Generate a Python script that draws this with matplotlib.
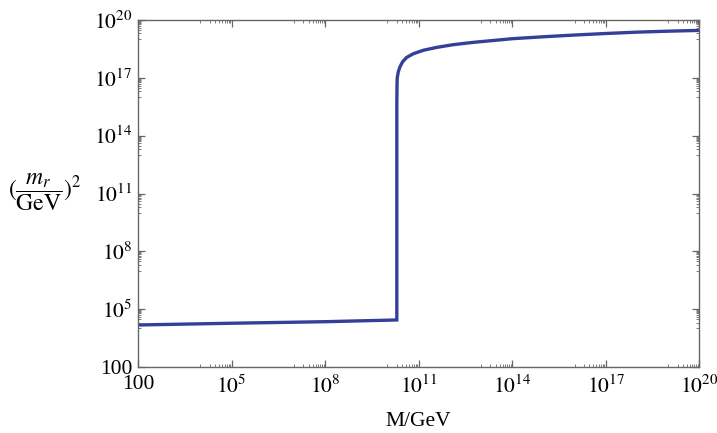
import numpy as np
import matplotlib
matplotlib.use("Agg")
import matplotlib.pyplot as plt
from matplotlib.ticker import FixedLocator, NullFormatter

plt.rcParams['font.family'] = ['Liberation Serif', 'DejaVu Serif']
plt.rcParams['mathtext.fontset'] = 'stix'

# Curve (log10 values)
log_M = [2.0, 5.0, 8.0, 10.30, 10.30, 10.305, 10.311, 10.348, 10.403, 10.489,
         10.617, 10.83, 11.15, 11.58, 12.11, 12.75, 13.61, 14.0, 15.0, 16.0,
         17.0, 18.0, 19.0, 20.0]
log_m2 = [4.18, 4.27, 4.35, 4.44, 15.5, 16.5, 16.97, 17.32, 17.58, 17.84,
          18.06, 18.25, 18.43, 18.58, 18.72, 18.84, 18.97, 19.03, 19.13, 19.22,
          19.30, 19.37, 19.42, 19.46]

major_exps = [2, 5, 8, 11, 14, 17, 20]
tick_labels = ['100', r'$10^{5}$', r'$10^{8}$', r'$10^{11}$', r'$10^{14}$', r'$10^{17}$', r'$10^{20}$']

M = 10.0 ** np.array(log_M)
m2 = 10.0 ** np.array(log_m2)

fig = plt.figure(figsize=(7.17, 4.33), dpi=100)
ax = fig.add_axes([138/717, 1-367/433, (699.3-138)/717, (367-20)/433])

ax.plot(M, m2, color='#333f99', lw=2.4, solid_joinstyle='miter')

ax.set_xscale('log')
ax.set_yscale('log')
ax.set_xlim(1e2, 1e20)
ax.set_ylim(1e2, 1e20)

majors = [10.0 ** k for k in major_exps]
minors = [j * 10.0 ** (k - 1) for k in major_exps[1:] for j in range(1, 10)]
for axis in (ax.xaxis, ax.yaxis):
    axis.set_major_locator(FixedLocator(majors))
    axis.set_minor_locator(FixedLocator(minors))
    axis.set_minor_formatter(NullFormatter())
ax.set_xticklabels(tick_labels)
ax.set_yticklabels(tick_labels)

spine_c = '#666666'
for s in ax.spines.values():
    s.set_color(spine_c)
    s.set_linewidth(1.0)
ax.tick_params(which='both', direction='in', top=True, right=True, color=spine_c,
               labelsize=15.5, labelcolor='black')
ax.tick_params(which='major', length=5, width=0.9, pad=4)
ax.tick_params(which='minor', length=2.5, width=0.6)
ax.tick_params(axis='x', which='major', pad=6)

ax.set_xlabel('M/GeV', fontsize=15.5, labelpad=10.5)
fig.text(0.062, 1-192/433, r'$(\dfrac{m_r}{\mathrm{GeV}})^2$', fontsize=17,
         ha='center', va='center')

fig.savefig('out.png', dpi=100)
